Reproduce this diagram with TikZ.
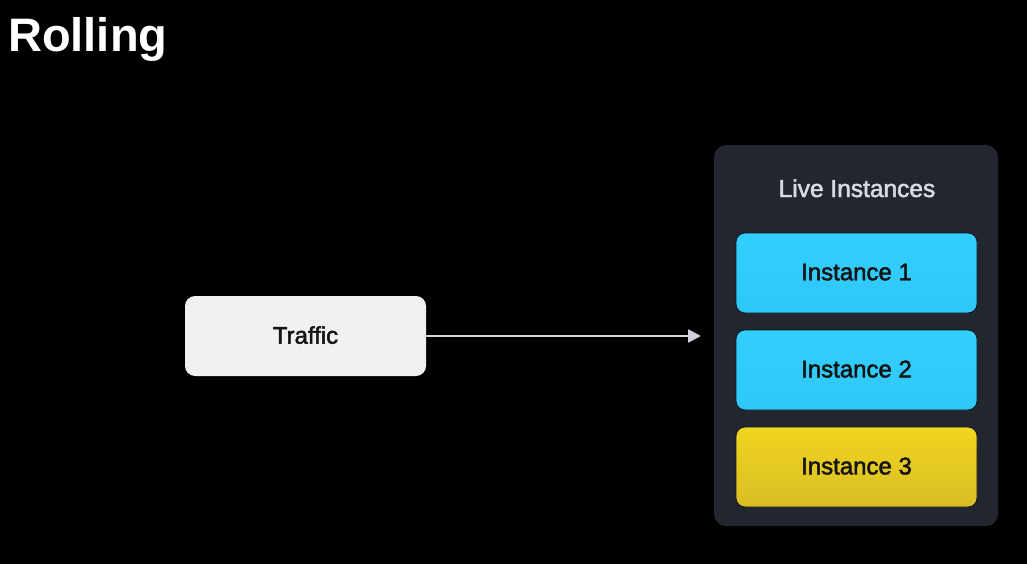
\documentclass[tikz,border=0pt]{standalone}
\usepackage{fontspec}
\setmainfont{Liberation Sans}
\newfontfamily\medfont[FakeBold=2]{Liberation Sans}
\usetikzlibrary{arrows.meta}
\definecolor{panel}{HTML}{22272F}
\definecolor{cyanbox}{HTML}{33CFFF}
\definecolor{cyanboxb}{HTML}{2EC8F8}
\definecolor{yeltop}{HTML}{F0D520}
\definecolor{yelbot}{HTML}{D9BD24}
\definecolor{trafficfill}{HTML}{F0F1F3}
\definecolor{arrowgray}{HTML}{D0D4DA}
\definecolor{labelgray}{HTML}{D8DBE0}
\definecolor{boxedge}{HTML}{101418}
\tikzset{
  instbox/.style={rectangle, rounded corners=9pt, minimum width=241pt, minimum height=80pt,
    draw=boxedge, line width=0.8pt, text=black!92, font=\medfont\fontsize{24}{28}\selectfont, inner sep=0pt},
  cyanfill/.style={top color=cyanbox, bottom color=cyanboxb},
  yelfill/.style={top color=yeltop, bottom color=yelbot},
}
\begin{document}
\begin{tikzpicture}[x=1pt,y=-1pt]
\fill[black] (0,0) rectangle (1027,564);
\useasboundingbox (0,0) rectangle (1027,564);
\node[anchor=base west, text=white, inner sep=0pt, font=\bfseries\fontsize{47}{52}\selectfont] (title) at (8,52) {Rolling};
\node[rectangle, rounded corners=12pt, fill=panel, minimum width=284pt, minimum height=381pt, inner sep=0pt] (panel) at (856,335.5) {};
\node[text=labelgray, inner sep=0pt, anchor=base, font=\medfont\fontsize{24.5}{28}\selectfont] (live) at (857,197) {Live Instances};
\node[instbox, cyanfill] (i1) at (856.5,273) {\raisebox{2pt}{Instance 1}};
\node[instbox, cyanfill] (i2) at (856.5,370) {\raisebox{2pt}{Instance 2}};
\node[instbox, yelfill] (i3) at (856.5,467) {\raisebox{2pt}{Instance 3}};
\node[rectangle, rounded corners=10pt, fill=trafficfill, minimum width=241pt, minimum height=80pt, inner sep=0pt, text=black!92, font=\medfont\fontsize{24}{28}\selectfont] (traffic) at (305.5,336) {\raisebox{2pt}{Traffic}};
\coordinate (tip) at (701,336);
\draw[arrowgray, line width=2.4pt, -{Triangle[length=13pt,width=13pt]}] (traffic.east) -- (tip);
\end{tikzpicture}
\end{document}
